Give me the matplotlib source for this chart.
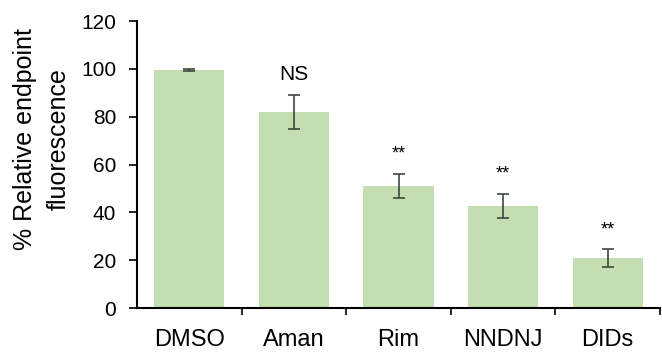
import matplotlib.pyplot as plt
import numpy as np

categories = ['DMSO', 'Aman', 'Rim', 'NNDNJ', 'DIDs']
values = [99.5, 82, 51, 42.7, 21]
errors = [0.3, 7, 5, 5, 3.8]
marks = ['', 'NS', '**', '**', '**']
mark_y = [None, 97.5, 66, 57.7, 34.3]

plt.rcParams['font.family'] = ['Liberation Sans', 'DejaVu Sans']

fig = plt.figure(figsize=(6.62, 3.57), dpi=100)
ax = fig.add_axes([0.207, 0.137, 0.79, 0.804])

x = np.arange(len(categories))
ax.bar(x, values, width=0.67, color='#c3deb0')
ax.errorbar(x, values, yerr=errors, fmt='none', ecolor='#3d4a3d',
            elinewidth=1.2, capsize=4, capthick=1.2)

for xi, m, my in zip(x, marks, mark_y):
    if m == 'NS':
        ax.text(xi, my, m, ha='center', va='center', fontsize=15)
    elif m:
        ax.text(xi, my - 1.5, m, ha='center', va='center', fontsize=13)

ax.set_xlim(-0.5, len(categories) - 0.5)
ax.set_ylim(0, 120)
ax.set_yticks(range(0, 121, 20))
ax.set_xticks(x)
ax.set_xticklabels(categories, fontsize=17)
ax.set_xticks(np.arange(0.5, len(categories), 1), minor=True)
ax.tick_params(axis='x', which='major', length=0, pad=15)
ax.tick_params(axis='x', which='minor', length=5, width=1.2, direction='out')
ax.tick_params(axis='y', labelsize=15, length=6, width=1.2, pad=9)

for s in ['top', 'right']:
    ax.spines[s].set_visible(False)
for s in ['left', 'bottom']:
    ax.spines[s].set_linewidth(1.5)

ax.set_ylabel('% Relative endpoint\nfluorescence', fontsize=18, linespacing=1.5)
ax.yaxis.set_label_coords(-0.127, 0.59)

fig.savefig('out.png', dpi=100)
